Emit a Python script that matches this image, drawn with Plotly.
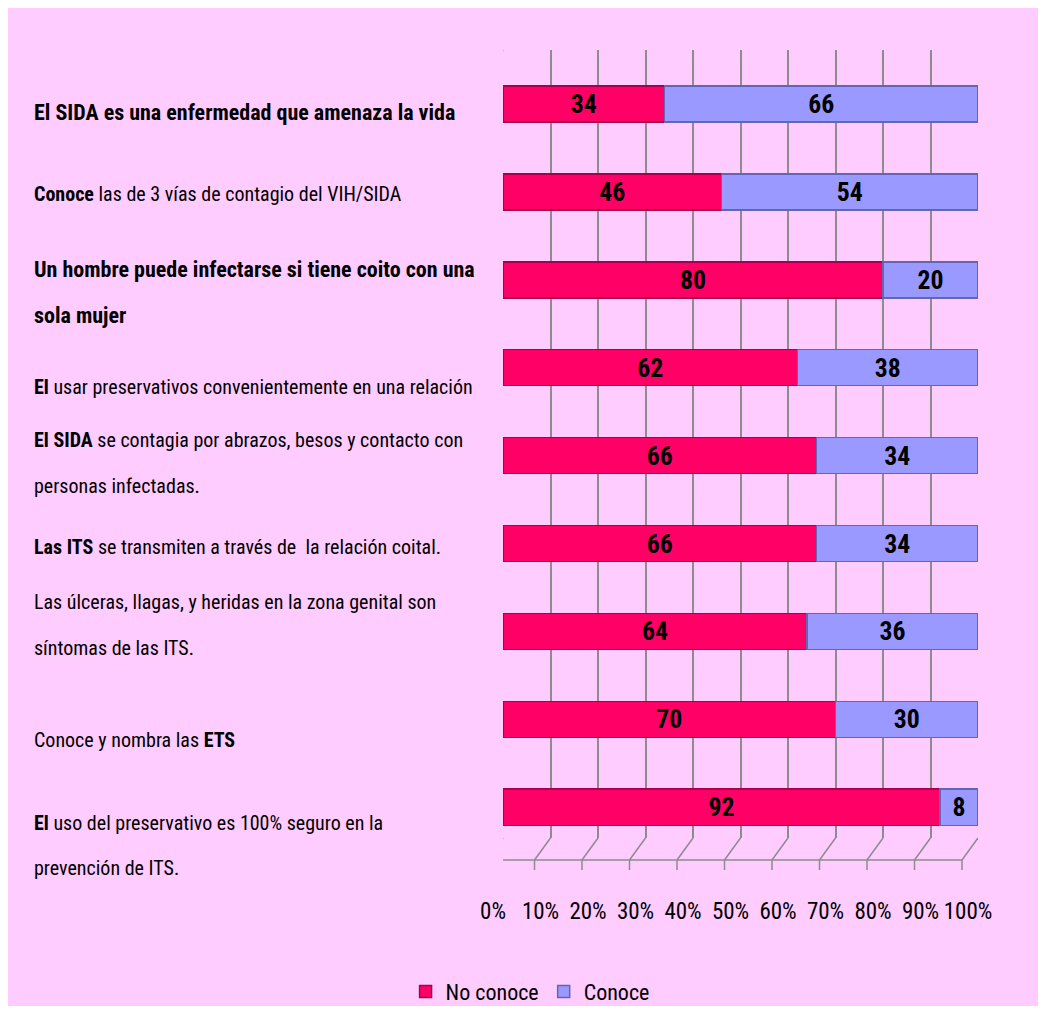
import plotly.graph_objects as go

# categories (label lines, top to bottom) and values
label_lines = [
    ["<b>El SIDA es una enfermedad que amenaza la vida</b>"],
    ["<b>Conoce</b> las de 3 vías de contagio del VIH/SIDA"],
    ["<b>Un hombre puede infectarse si tiene coito con una</b>", "<b>sola mujer</b>"],
    ["<b>El</b> usar preservativos convenientemente en una relación"],
    ["<b>El SIDA</b> se contagia por abrazos, besos y contacto con", "personas infectadas."],
    ["<b>Las ITS</b> se transmiten a través de  la relación coital."],
    ["Las úlceras, llagas, y heridas en la zona genital son", "síntomas de las ITS."],
    ["Conoce y nombra las <b>ETS</b>"],
    ["<b>El</b> uso del preservativo es 100% seguro en la", "prevención de ITS."],
]
cats = ["c%d" % i for i in range(len(label_lines))]
no_conoce = [34, 46, 80, 62, 66, 66, 64, 70, 92]
conoce = [66, 54, 20, 38, 34, 34, 36, 30, 8]
tick_vals = [0, 10, 20, 30, 40, 50, 60, 70, 80, 90, 100]
tick_text = ["0%", "10%", "20%", "30%", "40%", "50%", "60%", "70%", "80%", "90%", "100%"]

FONT = "Roboto Condensed, DejaVu Sans Condensed, Roboto"
PINK = "#FFCCFF"
GRID = "#8C8C8C"

W, H = 1030, 998
L, R, T, B = 495, 60, 42, 168
PW = W - L - R  # plot width in px
PH = H - T - B  # plot height in px
DX, DY = -16, -22  # depth offset of the 3D floor

fig = go.Figure()
fig.add_trace(go.Bar(y=cats, x=no_conoce, name="No conoce", orientation="h",
                     marker=dict(color="#FF0066", line=dict(color="#A8004A", width=1.5)),
                     text=no_conoce, textposition="inside", insidetextanchor="middle",
                     textfont=dict(family=FONT, size=30, color="black"),
                     texttemplate="<b>%{text}</b>", textangle=0, width=0.41))
fig.add_trace(go.Bar(y=cats, x=conoce, name="Conoce", orientation="h",
                     marker=dict(color="#9999FF", line=dict(color="#6464B4", width=1.5)),
                     text=conoce, textposition="inside", insidetextanchor="middle",
                     textfont=dict(family=FONT, size=30, color="black"),
                     texttemplate="<b>%{text}</b>", textangle=0, width=0.41))

# category labels, left aligned, each line its own annotation
# (vertical pixel offsets relative to the bar centre)
offsets = [[-9], [-2], [10, -36], [-19], [16, -30], [-3], [29, -17], [-21], [-16, -61]]
for cat, lines, offs in zip(cats, label_lines, offsets):
    for line, off in zip(lines, offs):
        all_bold = line.startswith("<b>") and line.endswith("</b>")
        fig.add_annotation(x=-0.992, xref="paper", y=cat, yref="y", yshift=off,
                           text=line, showarrow=False, xanchor="left", yanchor="middle",
                           align="left",
                           font=dict(family=FONT, size=22 if all_bold else 20, color="black"))

shapes = []
line_style = dict(color=GRID, width=1.5)
# 3D floor: diagonals + tick marks below the front edge
for v in tick_vals:
    shapes.append(dict(type="line", xref="x", yref="paper", xsizemode="pixel", ysizemode="pixel",
                       xanchor=v, yanchor=0, x0=0, x1=DX, y0=0, y1=DY, line=line_style))
    shapes.append(dict(type="line", xref="x", yref="paper", xsizemode="pixel", ysizemode="pixel",
                       xanchor=v, yanchor=0, x0=DX, x1=DX, y0=DY, y1=DY - 10, line=line_style))
# front edge of the floor
shapes.append(dict(type="line", xref="x", yref="paper", xsizemode="pixel", ysizemode="pixel",
                   xanchor=0, yanchor=0, x0=DX, x1=PW + DX, y0=DY, y1=DY, line=line_style))
# left wall
shapes.append(dict(type="line", xref="x", yref="paper", xsizemode="pixel", xanchor=0,
                   x0=DX, x1=DX, y0=DY / PH, y1=1 + DY / PH, line=line_style))
shapes.append(dict(type="line", xref="x", yref="paper", xsizemode="pixel", ysizemode="pixel",
                   xanchor=0, yanchor=1, x0=DX, x1=0, y0=DY, y1=0, line=line_style))

fig.update_layout(
    barmode="stack",
    width=W, height=H,
    margin=dict(l=L, r=R, t=T, b=B, autoexpand=False),
    paper_bgcolor=PINK,
    plot_bgcolor=PINK,
    shapes=shapes,
    showlegend=True,
    legend=dict(orientation="h", x=0.057, xanchor="center", y=-0.195, yanchor="middle",
                font=dict(family=FONT, size=22, color="black"), bgcolor="rgba(0,0,0,0)",
                traceorder="normal", itemwidth=30),
    xaxis=dict(range=[0, 100], tickvals=tick_vals, ticktext=tick_text, tickangle=0,
               showgrid=True, gridcolor=GRID, gridwidth=1.5, zeroline=False, automargin=False,
               showline=False, ticks="", ticklabelstandoff=57, ticklabelshift=-10,
               tickfont=dict(family=FONT, size=23, color="black")),
    yaxis=dict(categoryorder="array", categoryarray=cats, range=[8.35, -0.614],
               showticklabels=False, showgrid=False, zeroline=False, showline=False,
               automargin=False),
)

fig.write_html("out.html")
